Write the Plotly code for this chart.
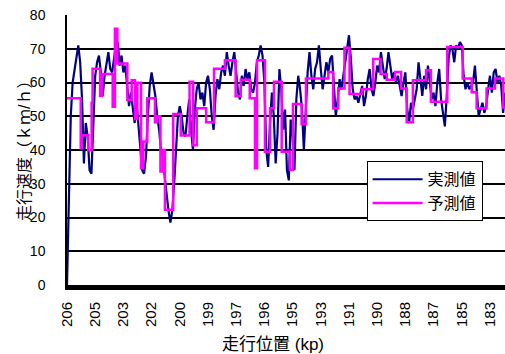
import plotly.graph_objects as go

# x-axis category labels (kilometre posts), one label every 15 samples
kp_labels = ["206", "205", "203", "202", "200", "199", "197", "196",
             "195", "193", "191", "190", "188", "187", "185", "183"]
label_step = 15

# measured speed (km/h), one value per sample along the route
actual = [
    0, 24, 50, 60, 64, 68, 71, 66, 55, 36,
    48, 44, 34, 33, 48, 62, 66, 68, 63, 56,
    62, 66, 69, 64, 63, 67, 71, 72, 65, 68,
    63, 65, 59, 53, 57, 52, 48, 54, 47, 40,
    34, 33, 38, 50, 59, 63, 60, 56, 50, 46,
    40, 38, 32, 26, 22, 18.5, 22, 30, 40, 50,
    53, 50, 45, 44, 50, 55, 46, 40, 52, 58,
    60, 55, 57, 53, 60, 62, 58, 50, 46, 56,
    61, 58, 63, 65, 62, 69, 65, 62, 66, 69,
    63, 57, 55, 62, 59, 64, 61, 63, 58, 57,
    60, 66, 68, 71, 68, 60, 40, 35, 48, 57,
    50, 36, 45, 64, 58, 46, 52, 34, 31, 49,
    44, 34, 55, 62, 58, 52, 40, 52, 63, 69,
    62, 58, 64, 66, 71, 64, 58, 62, 66, 63,
    67, 68, 60, 50, 55, 61, 58, 62, 66, 71,
    74, 67, 58, 55, 56, 54, 57, 59, 53, 56,
    61, 64, 58, 56, 60, 65, 63, 69, 65, 61,
    64, 69, 65, 61, 63, 60, 62, 59, 56, 60,
    63, 52, 48, 54, 52, 55, 58, 66, 60, 56,
    62, 58, 65, 60, 55, 57, 53, 60, 64, 55,
    50, 47, 56, 67, 71, 70, 66, 71, 70, 72,
    71, 62, 58, 60, 58, 59, 60, 65, 56, 50,
    52, 54, 51, 53, 58, 62, 57, 63, 64, 60,
    62, 59, 51, 57,
]
actual_pos = list(range(len(actual)))

# predicted speed: step function (start position in samples, value)
pred_pos = [0, 7.3, 7.8, 11.3, 13.1, 13.6, 17.6, 18.8, 24.3, 25.5, 26.8, 32.1,
            34.4, 36.2, 37.4, 39.4, 40.6, 42.7, 46.8, 48.0, 49.7, 51.1, 52.1,
            56.5, 60.5, 65.2, 67.1, 69.0, 74.0, 78.2, 84.0, 89.7, 92.4, 97.2,
            100.0, 101.1, 105.3, 108.0, 110.1, 114.2, 118.6, 120.2, 124.8,
            127.1, 139.0, 141.6, 144.3, 147.6, 150.3, 156.8, 162.9, 166.8,
            170.1, 174.5, 177.7, 180.7, 184.0, 191.0, 193.6, 202.3, 210.5,
            215.3, 217.9, 223.2, 227.7, 232.1, 233]
predicted = [55.3, 40.5, 44.4, 40, 54, 64.1, 56.1, 62.5, 52.8, 75.9, 65.6, 54.9,
             60.7, 49.2, 59.9, 34.6, 42.5, 55.3, 48.2, 50, 33.6, 40, 22.3,
             50.7, 44.3, 60.2, 41.4, 52.4, 48.2, 64.1, 66.6, 55.9, 60.8, 55.3,
             34.6, 66.6, 39.5, 52.4, 60.2, 39.5, 34.1, 53.6, 47.7, 61.2, 63.1,
             52.4, 58.2, 70.3, 56.6, 58, 67, 62.5, 60.8, 63.1, 58.2, 48.2,
             60.7, 63.6, 54.3, 70.5, 61.2, 57.1, 52.4, 58.2, 61.2, 52.6, 52.6]

FONT = "Liberation Sans, Arial, Noto Sans CJK JP, sans-serif"

fig = go.Figure()
fig.add_trace(go.Scatter(x=actual_pos, y=actual, mode="lines", name="実測値",
                         line=dict(color="#000080", width=2.2)))
fig.add_trace(go.Scatter(x=pred_pos, y=predicted, mode="lines", name="予測値",
                         line=dict(color="#FF00FF", width=2.5, shape="hv")))

fig.update_layout(
    width=505, height=354,
    margin=dict(l=67, r=0, t=15, b=69),
    paper_bgcolor="white", plot_bgcolor="white",
    font=dict(family=FONT, color="black", size=15),
    showlegend=True,
    legend=dict(x=0.684, y=0.458, xanchor="left", yanchor="top",
                bgcolor="white", bordercolor="black", borderwidth=1,
                font=dict(size=16, family=FONT), itemwidth=50,
                tracegroupgap=0),
    xaxis=dict(range=[0, 233],
               tickvals=[i * label_step for i in range(len(kp_labels))],
               ticktext=kp_labels, tickangle=-90,
               tickfont=dict(size=15, family=FONT),
               showgrid=False, zeroline=False,
               showline=True, linecolor="black", linewidth=5,
               ticks="", ticklabelstandoff=6),
    yaxis=dict(range=[0, 80], dtick=10,
               tickfont=dict(size=14, family=FONT),
               showgrid=True, gridcolor="black", gridwidth=1.5,
               zeroline=False, showline=True, linecolor="black", linewidth=1.5,
               ticks="", ticklabelstandoff=17),
    annotations=[
        dict(text="走行速度（ｋｍ/ｈ）", textangle=-90, xref="paper", yref="paper",
             x=(24 - 67) / 438, y=(285 - 147) / 270, xanchor="center",
             yanchor="middle", showarrow=False,
             font=dict(size=16, family=FONT)),
        dict(text="走行位置 (kp)", xref="paper", yref="paper",
             x=(273 - 67) / 438, y=-(344 - 285) / 270, yanchor="middle",
             xanchor="center", showarrow=False, font=dict(size=17, family=FONT)),
    ],
)

fig.write_html("out.html", config={"displayModeBar": False},
               post_script="document.body.style.margin='0';document.body.style.padding='0';")
